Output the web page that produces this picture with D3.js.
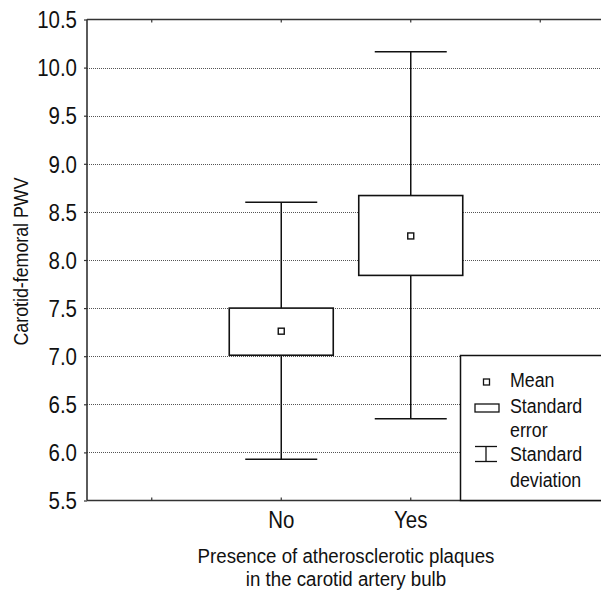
<!DOCTYPE html>
<html><head><meta charset="utf-8">
<script src="https://cdn.jsdelivr.net/npm/d3@7"></script>
<style>
body{margin:0;background:#fff;}
svg text{font-family:"Liberation Sans",Arial,sans-serif;fill:#111;}
</style></head>
<body>
<svg id="c" width="601" height="590"></svg>
<script>
const categories = ["", "No", "Yes", ""];
const groups = ["No", "Yes"];
const means = [7.26, 8.25];
const seLow = [7.01, 7.84];
const seHigh = [7.50, 8.67];
const sdLow = [5.93, 6.35];
const sdHigh = [8.60, 10.165];
const yTicks = [5.5, 6.0, 6.5, 7.0, 7.5, 8.0, 8.5, 9.0, 9.5, 10.0, 10.5];
const gridValues = [6.0, 6.5, 7.0, 7.5, 8.0, 8.5, 9.0, 9.5, 10.0];
const legendLines = ["Mean", "Standard", "error", "Standard", "deviation"];
const yTitle = "Carotid-femoral PWV";
const xTitle = ["Presence of atherosclerotic plaques", "in the carotid artery bulb"];

const SX = 0.89; // condensed look
const svg = d3.select("#c");
const L = 87, R = 605, T = 19.5, B = 500.5;
const idx = categories.map((d,i)=>i);
const x = d3.scaleBand().domain(idx).range([L, R]);
const xc = i => x(i) + x.bandwidth()/2;
const y = d3.scaleLinear().domain([5.5, 10.5]).range([B, T]);

function ctext(parent, tx, ty, str, size, anchor, rot) {
  return parent.append("text")
    .attr("transform", `translate(${tx},${ty})${rot ? ` rotate(${rot})` : ""} scale(${SX},1)`)
    .attr("text-anchor", anchor || "start").attr("font-size", size).text(str);
}

// grid
svg.append("g").selectAll("line").data(gridValues).join("line")
  .attr("x1", L).attr("x2", R).attr("y1", d=>Math.round(y(d))+0.5).attr("y2", d=>Math.round(y(d))+0.5)
  .attr("stroke", "#555").attr("stroke-width", 1).attr("stroke-dasharray", "1,1");

// groups
const ink = "#111";
groups.forEach((g, gi) => {
  const cx = xc(categories.indexOf(g));
  const gg = svg.append("g");
  gg.append("line").attr("x1", cx).attr("x2", cx).attr("y1", y(sdHigh[gi])).attr("y2", y(sdLow[gi]))
    .attr("stroke", ink).attr("stroke-width", 1.5);
  [sdHigh[gi], sdLow[gi]].forEach(v => {
    gg.append("line").attr("x1", cx-36).attr("x2", cx+36).attr("y1", y(v)).attr("y2", y(v))
      .attr("stroke", ink).attr("stroke-width", 1.5);
  });
  gg.append("rect").attr("x", cx-52).attr("width", 104)
    .attr("y", y(seHigh[gi])).attr("height", y(seLow[gi]) - y(seHigh[gi]))
    .attr("fill", "#fff").attr("stroke", ink).attr("stroke-width", 1.6);
  gg.append("rect").attr("x", cx-3).attr("y", y(means[gi])-3).attr("width", 6).attr("height", 6)
    .attr("fill", "#fff").attr("stroke", ink).attr("stroke-width", 1.4);
});

// frame
const axisColor = "#333";
svg.append("line").attr("x1", L).attr("x2", L).attr("y1", T).attr("y2", B).attr("stroke", axisColor).attr("stroke-width", 1.6);
svg.append("line").attr("x1", L).attr("x2", R).attr("y1", T).attr("y2", T).attr("stroke", axisColor).attr("stroke-width", 1.6);
svg.append("line").attr("x1", L).attr("x2", R).attr("y1", B).attr("y2", B).attr("stroke", axisColor).attr("stroke-width", 1.6);

// x ticks inside top and bottom
svg.append("g").selectAll("line").data(idx).join("line")
  .attr("x1", i=>xc(i)).attr("x2", i=>xc(i)).attr("y1", B).attr("y2", B-3).attr("stroke", axisColor).attr("stroke-width", 1.2);
svg.append("g").selectAll("line").data(idx).join("line")
  .attr("x1", i=>xc(i)).attr("x2", i=>xc(i)).attr("y1", T).attr("y2", T+3).attr("stroke", axisColor).attr("stroke-width", 1.2);

// x labels
const xl = svg.append("g");
idx.filter(i=>categories[i]).forEach(i => ctext(xl, xc(i), 528, categories[i], 23, "middle"));

// y axis
const yAxis = d3.axisLeft(y).tickValues(yTicks).tickSize(3).tickPadding(7).tickFormat(d3.format(".1f"));
const ya = svg.append("g").attr("transform", `translate(${L},0)`).call(yAxis);
ya.select(".domain").remove();
ya.selectAll(".tick line").attr("stroke", axisColor).attr("stroke-width", 1.2);
ya.selectAll("text").attr("font-size", 23).attr("font-family", null).attr("fill", "#111")
  .attr("x", -10/SX).attr("dy", "0.36em").attr("transform", `scale(${SX},1)`);

// titles
ctext(svg, 28, 261.5, yTitle, 20, "middle", -90);
ctext(svg, 346, 563, xTitle[0], 21, "middle");
ctext(svg, 346, 586, xTitle[1], 21, "middle");

// legend
const lg = svg.append("g");
lg.append("rect").attr("x", 460.5).attr("y", 355.5).attr("width", 160).attr("height", 145)
  .attr("fill", "#fff").attr("stroke", ink).attr("stroke-width", 1.5);
lg.append("rect").attr("x", 483.5).attr("y", 379).attr("width", 6).attr("height", 6)
  .attr("fill", "#fff").attr("stroke", ink).attr("stroke-width", 1.3);
lg.append("rect").attr("x", 475).attr("y", 404).attr("width", 24).attr("height", 8)
  .attr("fill", "#fff").attr("stroke", ink).attr("stroke-width", 1.3);
lg.append("line").attr("x1", 475).attr("x2", 497).attr("y1", 446.5).attr("y2", 446.5).attr("stroke", ink).attr("stroke-width", 1.3);
lg.append("line").attr("x1", 475).attr("x2", 497).attr("y1", 461.5).attr("y2", 461.5).attr("stroke", ink).attr("stroke-width", 1.3);
lg.append("line").attr("x1", 486).attr("x2", 486).attr("y1", 446.5).attr("y2", 461.5).attr("stroke", ink).attr("stroke-width", 1.3);
const legY = [387, 413, 437, 461, 487];
legendLines.forEach((t, k) => ctext(lg, 510, legY[k], t, 20, "start"));
</script>
</body></html>
